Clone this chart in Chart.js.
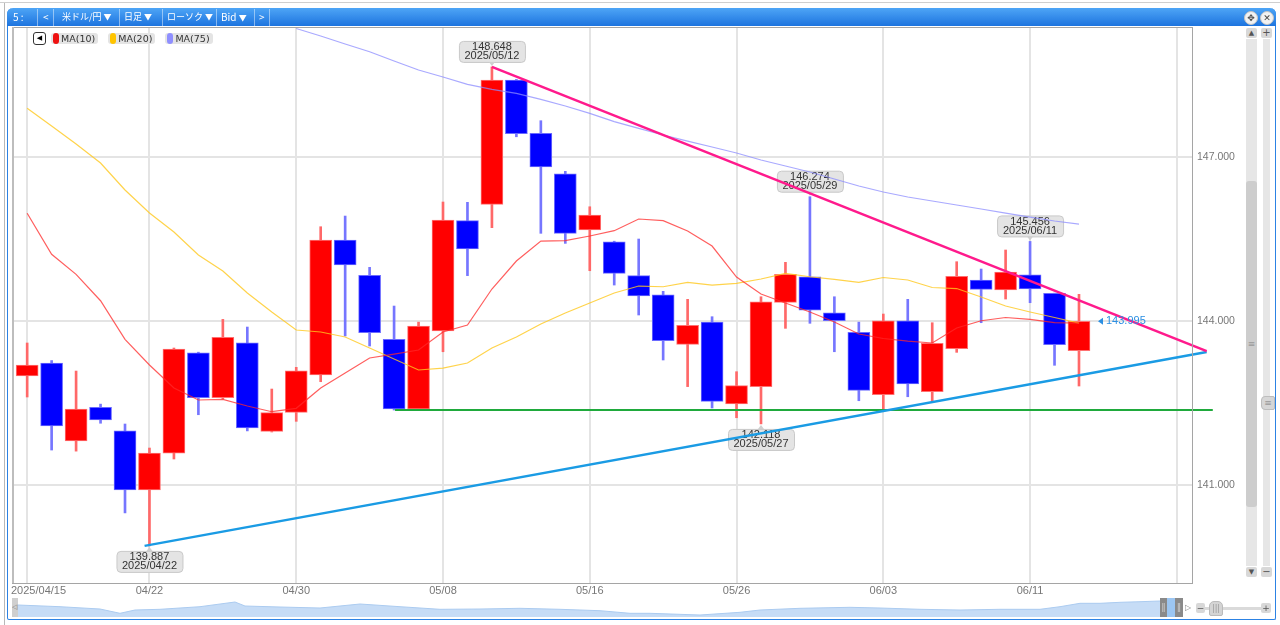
<!DOCTYPE html>
<html lang="ja">
<head>
<meta charset="utf-8">
<title>米ドル/円 日足</title>
<script src="https://cdn.jsdelivr.net/npm/chart.js@4.4.1/dist/chart.umd.min.js"></script>
<style>
body { margin: 0; width: 1280px; height: 625px; overflow: hidden; position: relative; background: #fff; font-family: "Liberation Sans", Arial, sans-serif; }
.abs { position: absolute; }
#topline { left: 0; top: 2px; width: 1280px; height: 1px; background: #cfcfcf; }
#sideline { left: 4px; top: 3px; width: 1px; height: 622px; background: #b8b8b8; }
#win { left: 7px; top: 8px; width: 1267px; height: 611px; border: 1px solid #2c82e4; border-top: 0; border-radius: 6px 6px 2px 2px; }
#bar { left: 7px; top: 8px; width: 1269px; height: 18px; background: linear-gradient(#4ea5f6, #1d74df); border-radius: 6px 6px 0 0; color: #fff; font: 10px "Noto Sans CJK JP", sans-serif; z-index: 5; }
#bar span { position: absolute; top: 0; line-height: 18px; white-space: nowrap; }
#bar span.j { font-size: 9px; }
#bar span small { font-size: 8px; }
#bar b { position: absolute; top: 1px; width: 1px; height: 17px; background: rgba(255,255,255,0.45); }
#bar .circ { position: absolute; top: 3px; width: 12px; height: 12px; border-radius: 7px; background: #f2f2f2; border: 1px solid #c4c4c4; color: #444; font: 9px "DejaVu Sans"; line-height: 12px; text-align: center; }
#legend { left: 33px; top: 32px; z-index: 4; display: flex; align-items: center; }
#legend .lbtn { width: 11px; height: 11px; border: 1px solid #333; border-radius: 3px; font: 7px "DejaVu Sans"; line-height: 11px; text-align: center; margin-right: 5px; background: #fff; }
#legend .pill { height: 11px; padding-right: 3px; margin-right: 10px; background: #e4e4e4; border-radius: 3px; font: 9.5px "DejaVu Sans"; line-height: 11px; color: #333; display: flex; align-items: center; }
#legend .pill i { display: inline-block; width: 6px; height: 11px; border-radius: 3px; margin: 0 2px; }
.btn { width: 11px; height: 10px; background: #d8d8d8; border-radius: 2px; color: #555; font: 7px "DejaVu Sans"; line-height: 10px; text-align: center; z-index: 3; }
.grip { color: #999; font: 9px "DejaVu Sans"; text-align: center; z-index: 3; }
</style>
</head>
<body>
<div id="topline" class="abs"></div>
<div id="sideline" class="abs"></div>
<div id="win" class="abs"></div>
<div id="bar" class="abs">
  <span style="left:6px">5 :</span><b style="left:30px"></b>
  <span style="left:36px">&lt;</span><b style="left:46px"></b>
  <span class="j" style="left:55px">米ドル/円 <small>▼</small></span><b style="left:112px"></b>
  <span class="j" style="left:117px">日足 <small>▼</small></span><b style="left:155px"></b>
  <span class="j" style="left:160px">ローソク <small>▼</small></span><b style="left:209px"></b>
  <span style="left:214px">Bid <small>▼</small></span><b style="left:247px"></b>
  <span style="left:252px">&gt;</span><b style="left:262px"></b>
  <div class="circ" style="left:1237px">✥</div>
  <div class="circ" style="left:1253px">✕</div>
</div>

<canvas id="chart" class="abs" width="1245" height="600" style="left:0;top:0;z-index:1"></canvas>
<div id="legend" class="abs"></div>

<!-- right scroll bars -->
<div class="abs btn" style="left:1246px;top:28px">▲</div>
<div class="abs" style="left:1246px;top:39px;width:11px;height:527px;background:#e6e6e6"></div>
<div class="abs grip" style="left:1246px;top:181px;width:11px;height:326px;background:#cdcdcd;border-radius:3px;line-height:326px">≡</div>
<div class="abs btn" style="left:1246px;top:567px">▼</div>
<div class="abs btn" style="left:1261px;top:28px;font-size:10px">+</div>
<div class="abs" style="left:1263px;top:39px;width:7px;height:527px;background:#e6e6e6"></div>
<div class="abs grip" style="left:1261px;top:396px;width:12px;height:12px;background:#d6d6d6;border:1px solid #bdbdbd;border-radius:4px 2px 2px 4px;line-height:12px">≡</div>
<div class="abs btn" style="left:1261px;top:567px;font-size:10px">−</div>

<!-- navigator -->
<div class="abs" style="left:12px;top:598px;width:6px;height:19px;background:#cfcfcf;color:#777;font:7px 'DejaVu Sans';line-height:19px;z-index:3">◁</div>
<canvas id="nav" class="abs" width="1142" height="19" style="left:18px;top:598px;z-index:2"></canvas>
<div class="abs" style="left:1167px;top:598px;width:8px;height:19px;background:#9cc6f2;z-index:3"></div>
<div class="abs grip" style="left:1160px;top:598px;width:7px;height:19px;background:#8a8a8a;color:#ccc;line-height:19px">‖</div>
<div class="abs grip" style="left:1175px;top:598px;width:8px;height:19px;background:#8a8a8a;color:#ccc;line-height:19px">‖</div>
<div class="abs grip" style="left:1184px;top:598px;width:8px;height:19px;color:#888;line-height:19px;font-size:8px">▷</div>
<div class="abs btn" style="left:1196px;top:603px;width:9px;height:10px;font-size:9px">−</div>
<div class="abs" style="left:1205px;top:607px;width:56px;height:3px;background:#dadada;z-index:3"></div>
<div class="abs grip" style="left:1209px;top:601px;width:12px;height:13px;background:#d4d4d4;border:1px solid #bbb;border-radius:5px 5px 2px 2px;line-height:13px;font-size:8px">|||</div>
<div class="abs btn" style="left:1261px;top:603px;width:10px;height:10px;font-size:9px">+</div>

<script>
'use strict';

let dates = ['2025/04/15', '2025/04/16', '2025/04/17', '2025/04/18', '2025/04/21', '2025/04/22', '2025/04/23', '2025/04/24', '2025/04/25', '2025/04/28', '2025/04/29', '2025/04/30',
    '2025/05/01', '2025/05/02', '2025/05/05', '2025/05/06', '2025/05/07', '2025/05/08', '2025/05/09', '2025/05/12', '2025/05/13', '2025/05/14', '2025/05/15', '2025/05/16',
    '2025/05/19', '2025/05/20', '2025/05/21', '2025/05/22', '2025/05/23', '2025/05/26', '2025/05/27', '2025/05/28', '2025/05/29', '2025/05/30',
    '2025/06/02', '2025/06/03', '2025/06/04', '2025/06/05', '2025/06/06', '2025/06/09', '2025/06/10', '2025/06/11', '2025/06/12', '2025/06/13'];

let opens = [142.994, 143.230, 141.805, 142.420, 141.990, 140.910, 141.585, 143.420, 142.597, 143.603, 141.982, 142.330,
    143.012, 145.480, 144.836, 143.665, 142.390, 143.817, 145.835, 146.135, 148.408, 147.433, 146.694, 145.665,
    145.450, 144.830, 144.480, 143.574, 143.980, 142.482, 142.798, 144.342, 144.810, 144.152,
    143.793, 142.652, 144.005, 142.707, 143.493, 144.750, 144.567, 144.847, 144.507, 143.457];
let highs = [143.598, 143.277, 143.085, 142.480, 142.116, 141.677, 143.506, 143.430, 144.030, 143.890, 142.756, 143.153,
    145.725, 145.920, 144.982, 144.274, 143.980, 146.177, 146.171, 148.648, 148.420, 147.664, 146.738, 146.090,
    145.460, 145.500, 144.543, 144.397, 144.079, 143.073, 144.444, 145.074, 146.274, 144.444,
    143.980, 144.128, 144.397, 143.969, 145.085, 144.951, 145.299, 145.456, 144.510, 144.488];
let lows = [142.610, 141.640, 141.620, 142.130, 140.490, 139.887, 141.476, 142.286, 142.573, 141.990, 141.970, 142.165,
    142.890, 143.726, 143.543, 142.372, 142.380, 143.438, 144.830, 145.707, 147.370, 145.604, 145.420, 144.920,
    144.658, 144.110, 143.287, 142.800, 142.409, 142.231, 142.118, 143.866, 143.958, 143.438,
    142.542, 142.372, 142.615, 142.524, 143.427, 143.969, 144.402, 144.335, 143.190, 142.811];
let closes = [143.195, 142.080, 142.390, 142.190, 140.910, 141.585, 143.488, 142.597, 143.700, 142.043, 142.323, 143.090,
    145.480, 145.024, 143.786, 142.390, 143.909, 145.847, 145.317, 148.408, 147.426, 146.817, 145.604, 145.940,
    144.872, 144.457, 143.640, 143.920, 142.531, 142.817, 144.353, 144.854, 144.200, 144.005,
    142.732, 144.005, 142.848, 143.592, 144.818, 144.580, 144.896, 144.585, 143.566, 143.995];

let ma10 = [145.970, 145.220, 144.854, 144.371, 143.665, 143.195, 142.774, 142.555, 142.568, 142.445,
    142.341, 142.403, 142.774, 143.049, 143.323, 143.396, 143.470, 143.799, 143.927, 144.585,
    145.097, 145.463, 145.469, 145.555, 145.652, 145.866, 145.835, 145.646, 145.372, 144.805,
    144.494, 144.329, 144.165, 143.982, 143.762, 143.680, 143.634, 143.598, 143.872, 144.005,
    144.064, 144.031, 143.969, 143.963];
let ma20 = [147.891, 147.567, 147.238, 146.890, 146.396, 145.975, 145.628, 145.207, 144.915, 144.512,
    144.165, 143.835, 143.799, 143.707, 143.506, 143.305, 143.104, 143.140, 143.232, 143.506,
    143.707, 143.945, 144.146, 144.329, 144.512, 144.640, 144.627, 144.708, 144.658, 144.690,
    144.768, 144.873, 144.810, 144.763, 144.708, 144.796, 144.750, 144.613, 144.594, 144.439,
    144.274, 144.165, 144.064, 143.963];
// MA(75) is only visible from 04/30 on
let ma75Start = 11;
let ma75 = [149.350, 149.213, 149.067, 148.926, 148.756, 148.591, 148.463, 148.330, 148.238, 148.165,
    148.055, 147.933, 147.799, 147.646, 147.525, 147.402, 147.292, 147.183, 147.073, 146.945,
    146.835, 146.725, 146.597, 146.469, 146.360, 146.268, 146.195, 146.122, 146.049, 145.975,
    145.902, 145.829, 145.774];

let maLabels = ['MA(10)', 'MA(20)', 'MA(75)'];
let maColors = ['#ee1111', '#ffc400', '#8f8fff'];

let xTickIdx = [0, 5, 11, 17, 23, 29, 35, 41, 47];
let xTickText = ['2025/04/15', '04/22', '04/30', '05/08', '05/16', '05/26', '06/03', '06/11', ''];
let yTicks = [141, 144, 147];

// high / low callouts
let markIdx = [19, 32, 41, 5, 30];
let markSide = ['high', 'high', 'high', 'low', 'low'];

// drawn trend lines, [candle index, price]
let lineResist = [[19, 148.648], [48.22, 143.45]];
let lineSupport = [[4.8, 139.887], [48.22, 143.435]];
let lineFloor = [[15.04, 142.372], [48.47, 142.372]];

// overview strip under the chart
let navPos = [0, 42, 82, 102, 117, 142, 182, 217, 227, 262, 302, 342, 382, 422, 462, 502, 542, 582, 612, 632,
    682, 722, 742, 782, 832, 862, 902, 942, 982, 1022, 1042, 1062, 1082, 1102, 1122, 1142];
let navLevel = [12, 10.3, 8, 3.7, 7, 7.7, 10.3, 15, 11, 10, 9, 13, 10.3, 7.7, 8, 8.7, 7.7, 6.3, 3.7, 3.7,
    2, 4.7, 7, 8.7, 9.7, 9, 7.7, 7, 7.7, 7.7, 10.3, 13.7, 13.7, 14.7, 15.3, 16];

Chart.defaults.font.family = '"Liberation Sans", Arial, sans-serif';

function isUp(i) {
    return closes[i] >= opens[i];
}

function pts(arr, start) {
    return arr.map((v, i) => ({ x: i + start, y: v }));
}

function drawMarks(chart) {
    let ctx = chart.ctx;
    let xs = chart.scales.x;
    let ys = chart.scales.y;
    ctx.save();
    ctx.font = '11px "Liberation Sans"';
    ctx.textAlign = 'center';
    ctx.textBaseline = 'middle';
    for (let k = 0; k < markIdx.length; k++) {
        let i = markIdx[k];
        let high = markSide[k] === 'high';
        let v = high ? highs[i] : lows[i];
        let px = xs.getPixelForValue(i);
        let py = ys.getPixelForValue(v);
        let w = 66, h = 21;
        let top = high ? py - 5 - h : py + 5;
        ctx.fillStyle = '#e4e4e4';
        ctx.strokeStyle = '#c9c9c9';
        ctx.lineWidth = 1;
        ctx.beginPath();
        ctx.roundRect(px - w / 2 + 0.5, top + 0.5, w, h, 4);
        ctx.fill();
        ctx.stroke();
        ctx.beginPath();
        let edge = high ? top + h : top;
        ctx.moveTo(px - 3, edge);
        ctx.lineTo(px + 3, edge);
        ctx.lineTo(px, high ? py - 1 : py + 1);
        ctx.closePath();
        ctx.fillStyle = '#d0d0d0';
        ctx.fill();
        ctx.fillStyle = '#333';
        ctx.fillText(v.toFixed(3), px, top + 6.5);
        ctx.fillText(dates[i], px, top + 15.5);
    }
    ctx.restore();
}

function drawLastPrice(chart) {
    let ctx = chart.ctx;
    let last = closes.length - 1;
    let x = chart.scales.x.getPixelForValue(last) + 19;
    let y = chart.scales.y.getPixelForValue(closes[last]);
    ctx.save();
    ctx.fillStyle = '#2c8fe2';
    ctx.beginPath();
    ctx.moveTo(x, y);
    ctx.lineTo(x + 5, y - 3.5);
    ctx.lineTo(x + 5, y + 3.5);
    ctx.closePath();
    ctx.fill();
    ctx.font = '11px "Liberation Sans"';
    ctx.textBaseline = 'middle';
    ctx.fillText(closes[last].toFixed(3), x + 8, y);
    ctx.restore();
}

function drawFrame(chart) {
    let ctx = chart.ctx;
    let a = chart.chartArea;
    ctx.save();
    ctx.strokeStyle = '#a5a5a5';
    ctx.lineWidth = 1;
    ctx.strokeRect(a.left + 0.5, a.top + 0.5, a.right - a.left, a.bottom - a.top);
    ctx.fillStyle = '#bdbdbd';
    ctx.fillRect(a.left, a.top, 2, a.bottom - a.top);
    // date labels, first one kept inside the plot
    ctx.font = '11px "Liberation Sans"';
    ctx.fillStyle = '#777';
    ctx.textBaseline = 'middle';
    ctx.textAlign = 'left';
    for (let k = 0; k < xTickIdx.length; k++) {
        let t = xTickText[k];
        if (!t) continue;
        let px = chart.scales.x.getPixelForValue(xTickIdx[k]);
        let w = ctx.measureText(t).width;
        ctx.fillText(t, Math.max(a.left - 1, px - w / 2), a.bottom + 8);
    }
    ctx.restore();
}

let framePlugin = {
    id: 'frame',
    beforeDatasetsDraw(chart) { drawMarks(chart); },
    afterDatasetsDraw(chart) { drawLastPrice(chart); },
    afterDraw(chart) { drawFrame(chart); }
};

let ctx = document.getElementById('chart').getContext('2d');
let myChart = new Chart(ctx, {
    type: 'bar',
    data: {
        datasets: [{
            label: 'wick',
            data: dates.map((d, i) => ({ x: i, y: [lows[i], highs[i]] })),
            backgroundColor: dates.map((d, i) => isUp(i) ? '#ff6868' : '#7676ff'),
            barThickness: 2,
            grouped: false,
            order: 10
        }, {
            label: 'body',
            data: dates.map((d, i) => ({ x: i, y: [opens[i], closes[i]] })),
            backgroundColor: dates.map((d, i) => isUp(i) ? '#ff0000' : '#0000ff'),
            borderColor: dates.map((d, i) => isUp(i) ? '#ff7070' : '#6a6aff'),
            borderWidth: 1,
            borderSkipped: false,
            barThickness: 22,
            grouped: false,
            order: 9
        }, {
            type: 'line',
            label: maLabels[0],
            data: pts(ma10, 0),
            borderColor: 'rgba(255, 40, 40, 0.75)',
            borderWidth: 1.2,
            pointRadius: 0,
            order: 5
        }, {
            type: 'line',
            label: maLabels[1],
            data: pts(ma20, 0),
            borderColor: 'rgba(255, 200, 30, 0.8)',
            borderWidth: 1.2,
            pointRadius: 0,
            order: 5
        }, {
            type: 'line',
            label: maLabels[2],
            data: pts(ma75, ma75Start),
            borderColor: 'rgba(140, 140, 255, 0.75)',
            borderWidth: 1.2,
            pointRadius: 0,
            order: 5
        }, {
            type: 'line',
            label: 'resist',
            data: lineResist.map(p => ({ x: p[0], y: p[1] })),
            borderColor: '#ff1a8c',
            borderWidth: 2.5,
            pointRadius: 0,
            clip: false,
            order: 1
        }, {
            type: 'line',
            label: 'support',
            data: lineSupport.map(p => ({ x: p[0], y: p[1] })),
            borderColor: '#1a9be4',
            borderWidth: 2.5,
            pointRadius: 0,
            clip: false,
            order: 1
        }, {
            type: 'line',
            label: 'floor',
            data: lineFloor.map(p => ({ x: p[0], y: p[1] })),
            borderColor: '#1faa3c',
            borderWidth: 2,
            pointRadius: 0,
            clip: false,
            order: 1
        }]
    },
    options: {
        responsive: false,
        animation: false,
        events: [],
        layout: { padding: { left: 12, top: 27, right: 0, bottom: 0 } },
        plugins: {
            legend: { display: false },
            tooltip: { enabled: false }
        },
        scales: {
            x: {
                type: 'linear',
                min: -0.62,
                max: 47.62,
                offset: false,
                afterBuildTicks: s => { s.ticks = xTickIdx.map(v => ({ value: v })); },
                afterFit: s => { s.height = 17; },
                grid: { color: '#e4e4e4', lineWidth: 2, drawTicks: false, offset: false },
                border: { display: false },
                ticks: { display: false }
            },
            y: {
                position: 'right',
                min: 139.208,
                max: 149.378,
                afterBuildTicks: s => { s.ticks = yTicks.map(v => ({ value: v })); },
                afterFit: s => { s.width = 53; },
                grid: { color: '#e4e4e4', lineWidth: 2, drawTicks: false },
                border: { display: false },
                ticks: {
                    color: '#777',
                    font: { size: 10.5 },
                    padding: 5,
                    callback: v => Number(v).toFixed(3)
                }
            }
        }
    },
    plugins: [framePlugin]
});

// legend pills
let legendEl = document.getElementById('legend');
let btn = document.createElement('div');
btn.className = 'lbtn';
btn.textContent = '◀';
legendEl.appendChild(btn);
for (let i = 0; i < maLabels.length; i++) {
    let pill = document.createElement('div');
    pill.className = 'pill';
    let dot = document.createElement('i');
    dot.style.background = maColors[i];
    pill.appendChild(dot);
    pill.appendChild(document.createTextNode(maLabels[i]));
    legendEl.appendChild(pill);
}

let navChart = new Chart(document.getElementById('nav'), {
    type: 'line',
    data: {
        datasets: [{
            data: navPos.map((p, i) => ({ x: p, y: navLevel[i] })),
            fill: 'start',
            backgroundColor: '#c6dcf6',
            borderColor: '#abcbf0',
            borderWidth: 1,
            pointRadius: 0
        }]
    },
    options: {
        responsive: false,
        animation: false,
        events: [],
        layout: { padding: 0 },
        plugins: { legend: { display: false }, tooltip: { enabled: false } },
        scales: {
            x: { type: 'linear', display: false, min: 0, max: 1142 },
            y: { display: false, min: 0, max: 19 }
        }
    }
});
</script>
</body>
</html>
